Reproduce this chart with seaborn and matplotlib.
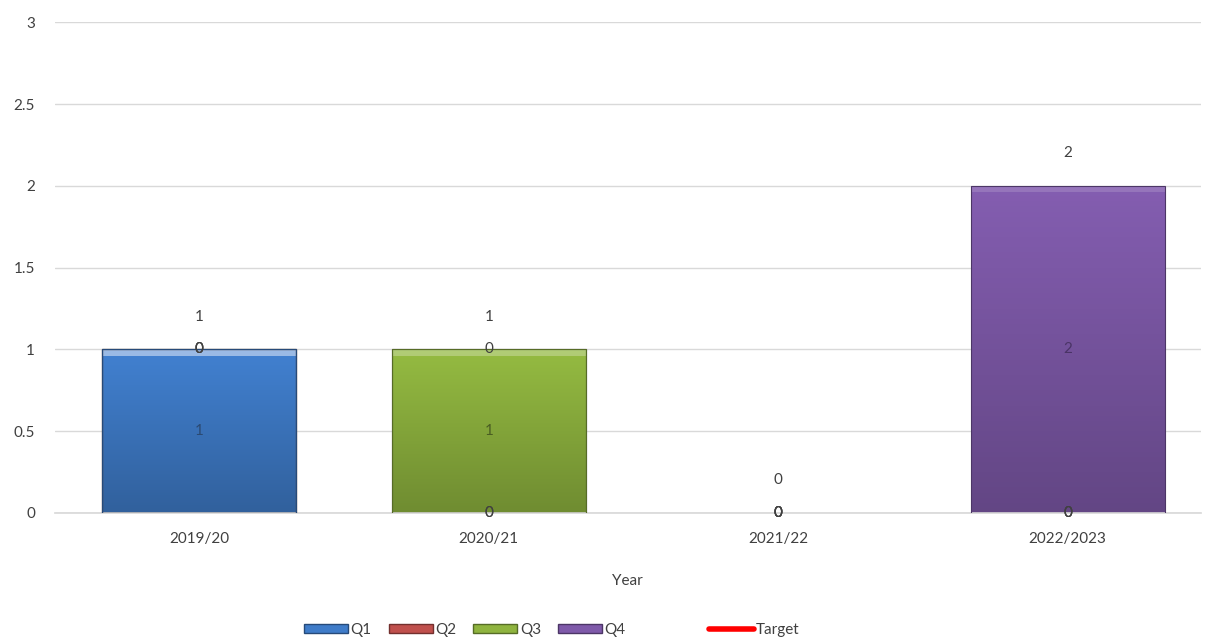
import numpy as np
import pandas as pd
import matplotlib
matplotlib.use("Agg")
import matplotlib.pyplot as plt
import seaborn as sns
from matplotlib.patches import Patch, Rectangle
from matplotlib.lines import Line2D
from matplotlib.colors import to_rgb

# Quarterly counts per reporting year
years = ["2019/20", "2020/21", "2021/22", "2022/2023"]
q1 = [1, 0, 0, 0]
q2 = [0, 0, 0, 0]
q3 = [0, 1, 0, 0]
q4 = [0, 0, 0, 2]
target = [np.nan, np.nan, np.nan, np.nan]

series_names = ["Q1", "Q2", "Q3", "Q4"]
series_vals = [q1, q2, q3, q4]
colors = {"Q1": "#3f7cc9", "Q2": "#c0504d", "Q3": "#8fb43f", "Q4": "#7f5aaa"}
label_colors = {"Q1": "#2b4a73", "Q2": "#6e2c2a", "Q3": "#4a5e22", "Q4": "#4a3466"}

sns.set_theme(style="white")
plt.rcParams["font.family"] = ["Lato", "DejaVu Sans"]

df = pd.DataFrame({"Year": years, **dict(zip(series_names, series_vals))})
cum = df[series_names].cumsum(axis=1)

fig = plt.figure(figsize=(12.13, 6.37), dpi=100)
ax = fig.add_axes([0.045, 0.195, 0.945, 0.77])

# stacked bars: draw cumulative totals from the top series down
for name in reversed(series_names):
    sns.barplot(data=cum.assign(Year=df["Year"]), x="Year", y=name, color=colors[name],
                width=0.67, saturation=1, ax=ax, order=years, zorder=2,
                edgecolor="none", linewidth=0)

# vertical shading on each bar
for p in list(ax.patches):
    h = p.get_height()
    if h <= 0:
        continue
    x0, y0, w = p.get_x(), p.get_y(), p.get_width()
    base = np.array(to_rgb(p.get_facecolor()))
    t = np.linspace(0, 1, 64)[:, None]
    top_c = np.clip(base * 1.04, 0, 1)
    bot_c = base * 0.78
    grad = (bot_c[None, :] * (1 - t) + top_c[None, :] * t)[::-1]
    img = grad[:, None, :].repeat(8, axis=1)
    im = ax.imshow(img, extent=(x0, x0 + w, y0, y0 + h), aspect="auto", zorder=2.5,
                   origin="upper")
    im.set_clip_path(p)
    ax.add_patch(Rectangle((x0, y0 + h - 0.04), w, 0.04,
                           facecolor="white", alpha=0.15, zorder=2.6, linewidth=0))
    ax.add_patch(Rectangle((x0, y0), w, h, facecolor="none",
                           edgecolor=tuple(base * 0.6), linewidth=0.8, zorder=2.7))

# target line (no values recorded)
ax.plot(range(len(years)), target, color="red", linewidth=3, zorder=3)

# segment and total labels
for i, yr in enumerate(years):
    bottom = 0
    for name, vals in zip(series_names, series_vals):
        v = vals[i]
        col = label_colors[name] if v > 0 else "#404040"
        ax.text(i, bottom + v / 2, f"{v:g}", ha="center", va="center",
                fontsize=11, color=col, zorder=4)
        bottom += v
    ax.text(i, bottom + 0.2, f"{bottom:g}", ha="center", va="center",
            fontsize=11, color="#404040", zorder=4)

ax.set_xlim(-0.5, 3.46)
ax.set_ylim(0, 3)
ax.set_yticks([0, 0.5, 1, 1.5, 2, 2.5, 3])
ax.set_yticklabels(["0", "0.5", "1", "1.5", "2", "2.5", "3"])
ax.yaxis.grid(True, color="#d9d9d9", linewidth=1, zorder=0)
ax.set_axisbelow(True)
for s in ["top", "right", "left"]:
    ax.spines[s].set_visible(False)
ax.spines["bottom"].set_color("#d9d9d9")
ax.tick_params(axis="both", length=0, labelsize=11, colors="#404040")
ax.tick_params(axis="y", pad=14)
ax.tick_params(axis="x", pad=14)
ax.set_xlabel("Year", fontsize=11, color="#404040", labelpad=20)
ax.set_ylabel("")

handles = [Patch(facecolor=colors[n], edgecolor=tuple(np.array(to_rgb(colors[n])) * 0.6),
                 label=n) for n in series_names]
handles.append(Patch(facecolor="none", edgecolor="none", label=" "))
handles.append(Line2D([0], [0], color="red", linewidth=4, label="Target"))
fig.legend(handles=handles, loc="lower center", bbox_to_anchor=(0.455, -0.022),
           ncol=6, frameon=False, fontsize=11, handlelength=2.9, handleheight=0.5,
           handletextpad=0.15, columnspacing=1.1, labelcolor="#404040")

fig.savefig("out.png", dpi=100)
